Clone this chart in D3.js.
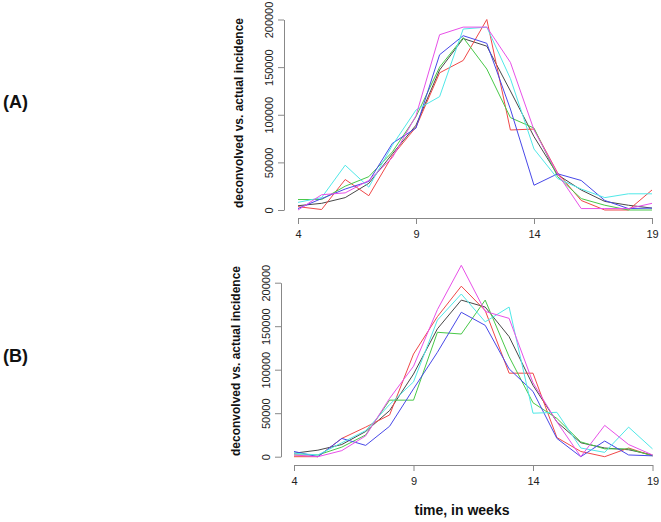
<!DOCTYPE html>
<html><head><meta charset="utf-8">
<script src="https://cdn.jsdelivr.net/npm/d3@7/dist/d3.min.js"></script>
<style>
body{margin:0;background:#fff;}
svg{display:block;font-family:"Liberation Sans",Arial,Helvetica,sans-serif;}
</style>
</head><body>
<svg id="chart" width="661" height="522"></svg>
<script>
// ---- data ----
const weeks = [4,5,6,7,8,9,10,11,12,13,14,15,16,17,18,19];
const xTicks = [4,9,14,19];
const yTicks = [0,50000,100000,150000,200000];
const seriesNames = ["black","red","green","blue","cyan","magenta"];
const seriesColors = ["#484848","#f04848","#48c848","#4848e8","#50e8e8","#e850e8"];

// Panel A (values in cases)
const aBlack   = [4500,7000,13000,28000,59000,89000,147000,180000,172000,125000,77000,37000,21000,9000,5000,2000];
const aRed     = [3500,500,32000,15000,57000,87000,144000,157000,200000,84000,85000,39000,10000,0,0,21000];
const aGreen   = [11000,11000,25000,35000,61000,98000,150000,181000,148000,97000,86000,35000,12000,5000,0,0];
const aBlue    = [1500,12000,22000,30000,70000,86000,163000,183000,175000,106000,26000,38000,31000,10000,1500,2000];
const aCyan    = [8000,13000,47000,24000,68000,105000,119000,190000,192000,138000,64000,33000,22000,13000,17000,17000];
const aMagenta = [0,16000,18000,31000,55000,99000,184000,192000,192000,155000,84000,38000,1500,1500,1500,7000];

// Panel B
const bBlack   = [4000,7500,14000,29000,53000,95000,147000,180000,172000,138000,82000,40000,16000,10000,8000,2000];
const bRed     = [0,0,21000,34000,48000,118000,161000,196000,168000,96000,96000,22000,6000,0,10000,1000];
const bGreen   = [2000,2000,11000,25000,65000,65000,143000,141000,180000,115000,62000,44000,17000,9000,9000,1000];
const bBlue    = [6000,0,21000,13000,35000,78000,120000,166000,151000,101000,75000,21000,0,18000,2000,1000];
const bCyan    = [4000,2000,16000,30000,60000,86000,157000,187000,155000,172000,50000,51000,10000,5000,34000,9000];
const bMagenta = [2000,0,7000,24000,67000,104000,169000,220000,167000,159000,85000,40000,0,36000,14000,2000];

const panelASeries = [aBlack,aRed,aGreen,aBlue,aCyan,aMagenta];
const panelBSeries = [bBlack,bRed,bGreen,bBlue,bCyan,bMagenta];

// ---- drawing ----
const svg = d3.select("#chart");
const fmt = d3.format("d");

function drawPanel(cfg){
  const x = d3.scaleLinear().domain([4,19]).range([cfg.x0, cfg.x1]);
  const y = d3.scaleLinear().domain([0,200000]).range([cfg.y0, cfg.y1]);
  const g = svg.append("g");

  // lines
  const line = d3.line().x((d,i)=>x(weeks[i])).y(d=>y(d));
  cfg.series.forEach((s,k)=>{
    g.append("path").datum(s).attr("d", line)
      .attr("fill","none").attr("stroke", seriesColors[k])
      .attr("stroke-width",1).attr("stroke-linejoin","miter");
  });

  // x axis
  const xa = g.append("g").attr("transform",`translate(0,${cfg.xAxisY})`)
    .call(d3.axisBottom(x).tickValues(xTicks).tickFormat(fmt).tickSize(6).tickSizeOuter(0).tickPadding(6));
  xa.select(".domain").attr("stroke","#888");
  xa.selectAll(".tick line").attr("stroke","#888");
  xa.selectAll(".tick text").attr("font-size","11px").attr("fill","#222")
    .attr("font-family","'Liberation Sans',Arial,sans-serif");

  // y axis
  const ya = g.append("g").attr("transform",`translate(${cfg.yAxisX},0)`)
    .call(d3.axisLeft(y).tickValues(yTicks).tickFormat(fmt).tickSize(6).tickSizeOuter(0));
  ya.select(".domain").attr("stroke","#888");
  ya.selectAll(".tick line").attr("stroke","#888");
  ya.selectAll(".tick text").remove();
  ya.selectAll(".tick").append("text")
    .attr("transform","translate(-11,0) rotate(-90)")
    .attr("text-anchor","middle")
    .attr("font-size","11px").attr("fill","#222")
    .attr("font-family","'Liberation Sans',Arial,sans-serif")
    .text(d=>fmt(d));

  // y title
  svg.append("text")
    .attr("transform",`translate(${cfg.titleX},${cfg.titleY}) rotate(-90)`)
    .attr("text-anchor","middle").attr("font-size","12px").attr("font-weight","bold")
    .attr("fill","#111").text("deconvolved vs. actual incidence");

  // panel label
  svg.append("text").attr("x",3).attr("y",cfg.labelY)
    .attr("font-size","18px").attr("font-weight","bold").attr("fill","#111")
    .text(cfg.label);
}

drawPanel({series:panelASeries, x0:298, x1:652, y0:210, y1:19.5, xAxisY:218, yAxisX:284,
  titleX:243, titleY:113, label:"(A)", labelY:108});
drawPanel({series:panelBSeries, x0:294, x1:652.5, y0:456.7, y1:282.7, xAxisY:465, yAxisX:281,
  titleX:240, titleY:361, label:"(B)", labelY:362});

svg.append("text").attr("x",462).attr("y",515).attr("text-anchor","middle")
  .attr("font-size","14px").attr("font-weight","bold").attr("fill","#111")
  .text("time, in weeks");
</script>
</body></html>
